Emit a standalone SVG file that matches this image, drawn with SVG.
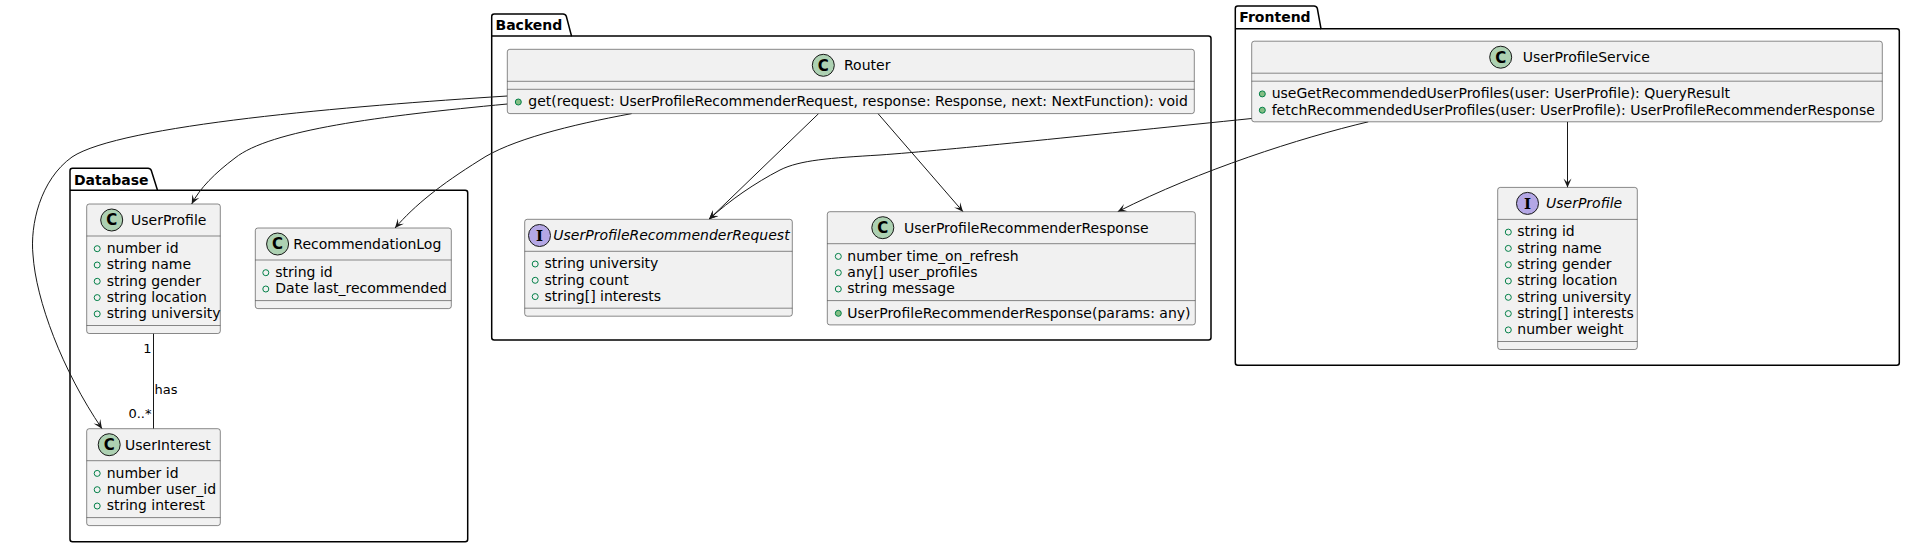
<svg xmlns="http://www.w3.org/2000/svg" width="1905" height="547" viewBox="0 0 1905 547">
<style>
text{font-family:"DejaVu Sans",sans-serif;fill:#000000}
.pkg{fill:none;stroke:#000000;stroke-width:1.5}
.pn{font-size:14px;font-weight:bold}
.box{fill:#F1F1F1;stroke:#181818;stroke-width:0.5}
.dv{stroke:#181818;stroke-width:0.5}
.nm{font-size:14px}
.it{font-style:italic}
.mb{font-size:14px}
.fld{fill:none;stroke:#038048;stroke-width:1}
.mth{fill:#84BE84;stroke:#038048;stroke-width:1}
.cc{fill:#ADD1B2;stroke:#181818;stroke-width:1}
.ic{fill:#B4A7E5;stroke:#181818;stroke-width:1}
.sp{font-size:15px;font-weight:bold;text-anchor:middle}
.spi{font-family:"DejaVu Serif",serif;font-size:15px;font-weight:bold;text-anchor:middle}
.ln{fill:none;stroke:#181818;stroke-width:1}
.lb{font-size:13px}
</style>
<defs>
<marker id="arr" viewBox="-10 -5 11 10" refX="0" refY="0" markerWidth="11" markerHeight="10" orient="auto" markerUnits="userSpaceOnUse">
<path d="M0,0 L-9,-4 L-5,0 L-9,4 Z" fill="#181818"/>
</marker>
</defs>
<rect width="1905" height="547" fill="#FFFFFF"/>

<g id="pkg-database">
<path class="pkg" d="M72.5,168.3 L148,168.3 A3.5,3.5 0 0 1 151.3,170.6 L157.5,190.3 L465.2,190.3 A2.5,2.5 0 0 1 467.7,192.8 L467.7,539.2 A2.5,2.5 0 0 1 465.2,541.7 L72.5,541.7 A2.5,2.5 0 0 1 70,539.2 L70,170.8 A2.5,2.5 0 0 1 72.5,168.3 Z"/>
<line class="pkg" x1="70" y1="190.3" x2="157.5" y2="190.3"/>
<text class="pn" x="74" y="184.5">Database</text>
</g>
<g id="pkg-backend">
<path class="pkg" d="M494.2,14 L563,14 A3.5,3.5 0 0 1 566.3,16.3 L571.5,36 L1208.5,36 A2.5,2.5 0 0 1 1211,38.5 L1211,337.5 A2.5,2.5 0 0 1 1208.5,340 L494.2,340 A2.5,2.5 0 0 1 491.7,337.5 L491.7,16.5 A2.5,2.5 0 0 1 494.2,14 Z"/>
<line class="pkg" x1="491.7" y1="36" x2="571.5" y2="36"/>
<text class="pn" x="495.5" y="30">Backend</text>
</g>
<g id="pkg-frontend">
<path class="pkg" d="M1237.8,6 L1314,6 A3.5,3.5 0 0 1 1317.3,8.3 L1321,28.7 L1896.8,28.7 A2.5,2.5 0 0 1 1899.3,31.2 L1899.3,362.8 A2.5,2.5 0 0 1 1896.8,365.3 L1237.8,365.3 A2.5,2.5 0 0 1 1235.3,362.8 L1235.3,8.5 A2.5,2.5 0 0 1 1237.8,6 Z"/>
<line class="pkg" x1="1235.3" y1="28.7" x2="1321" y2="28.7"/>
<text class="pn" x="1239.3" y="22">Frontend</text>
</g>

<g id="connectors">
<path class="ln" marker-end="url(#arr)" d="M507.3,96 C350,106 120,125 72,157 C40,180 30,225 33,255 C36,300 62,370 102,428.7"/>
<path class="ln" marker-end="url(#arr)" d="M507.3,104 C380,116 270,130 235,158 C215,173 200,188 191.7,204"/>
<path class="ln" marker-end="url(#arr)" d="M631.7,113.6 C570,125 510,140 480,160 C440,185 415,205 395,228"/>
<path class="ln" marker-end="url(#arr)" d="M818.6,113.6 L709,219.3"/>
<path class="ln" marker-end="url(#arr)" d="M878,113.6 L963,211.7"/>
<path class="ln" marker-end="url(#arr)" d="M1251.7,118.5 C1100,134 950,150 880,155 C830,158 800,160 780,170 C755,183 730,200 709,219.3"/>
<path class="ln" marker-end="url(#arr)" d="M1368.3,121.8 C1300,138 1200,170 1117.7,211.7"/>
<path class="ln" marker-end="url(#arr)" d="M1567.5,121.8 L1567.5,187.4"/>
<line class="ln" x1="153.5" y1="333.5" x2="153.5" y2="428.7"/>
<text class="lb" x="151.5" y="353" text-anchor="end">1</text>
<text class="lb" x="154.5" y="394">has</text>
<text class="lb" x="151.5" y="417.5" text-anchor="end">0..*</text>
</g>

<g id="UserProfile_db">
<rect class="box" x="86.7" y="204" width="133.6" height="129.5" rx="2.5"/>
<circle class="cc" cx="111.7" cy="220" r="11"/>
<text class="sp" x="111.7" y="225.4">C</text>
<text class="nm" x="131" y="225">UserProfile</text>
<line class="dv" x1="86.7" y1="236" x2="220.3" y2="236"/>
<circle class="fld" cx="97.2" cy="248.7" r="3"/><text class="mb" x="106.7" y="253">number id</text>
<circle class="fld" cx="97.2" cy="265" r="3"/><text class="mb" x="106.7" y="269.3">string name</text>
<circle class="fld" cx="97.2" cy="281.3" r="3"/><text class="mb" x="106.7" y="285.6">string gender</text>
<circle class="fld" cx="97.2" cy="297.6" r="3"/><text class="mb" x="106.7" y="301.9">string location</text>
<circle class="fld" cx="97.2" cy="313.9" r="3"/><text class="mb" x="106.7" y="318.2">string university</text>
<line class="dv" x1="86.7" y1="325.5" x2="220.3" y2="325.5"/>
</g>

<g id="RecommendationLog">
<rect class="box" x="255.3" y="228" width="196" height="80.6" rx="2.5"/>
<circle class="cc" cx="277.6" cy="244" r="11"/>
<text class="sp" x="277.6" y="249.4">C</text>
<text class="nm" x="293.3" y="249">RecommendationLog</text>
<line class="dv" x1="255.3" y1="260" x2="451.3" y2="260"/>
<circle class="fld" cx="265.8" cy="272.7" r="3"/><text class="mb" x="275.3" y="277">string id</text>
<circle class="fld" cx="265.8" cy="289" r="3"/><text class="mb" x="275.3" y="293.3">Date last_recommended</text>
<line class="dv" x1="255.3" y1="300.6" x2="451.3" y2="300.6"/>
</g>

<g id="UserInterest">
<rect class="box" x="86.7" y="428.7" width="133.6" height="96.9" rx="2.5"/>
<circle class="cc" cx="109.2" cy="444.7" r="11"/>
<text class="sp" x="109.2" y="450.1">C</text>
<text class="nm" x="125" y="449.7">UserInterest</text>
<line class="dv" x1="86.7" y1="460.7" x2="220.3" y2="460.7"/>
<circle class="fld" cx="97.2" cy="473.4" r="3"/><text class="mb" x="106.7" y="477.7">number id</text>
<circle class="fld" cx="97.2" cy="489.7" r="3"/><text class="mb" x="106.7" y="494">number user_id</text>
<circle class="fld" cx="97.2" cy="506" r="3"/><text class="mb" x="106.7" y="510.3">string interest</text>
<line class="dv" x1="86.7" y1="517.6" x2="220.3" y2="517.6"/>
</g>

<g id="Router">
<rect class="box" x="507.3" y="49.3" width="687" height="64.3" rx="2.5"/>
<circle class="cc" cx="823.3" cy="65.3" r="11"/>
<text class="sp" x="823.3" y="70.7">C</text>
<text class="nm" x="844" y="70.3">Router</text>
<line class="dv" x1="507.3" y1="81.3" x2="1194.3" y2="81.3"/>
<line class="dv" x1="507.3" y1="89.3" x2="1194.3" y2="89.3"/>
<circle class="mth" cx="518.3" cy="102" r="3"/><text class="mb" x="528.3" y="106.3">get(request: UserProfileRecommenderRequest, response: Response, next: NextFunction): void</text>
</g>

<g id="UserProfileRecommenderRequest">
<rect class="box" x="524.7" y="219.3" width="267.6" height="96.9" rx="2.5"/>
<circle class="ic" cx="539.5" cy="235.5" r="11"/>
<text class="spi" x="539.5" y="240.9">I</text>
<text class="nm it" x="553.3" y="240.3">UserProfileRecommenderRequest</text>
<line class="dv" x1="524.7" y1="251.3" x2="792.3" y2="251.3"/>
<circle class="fld" cx="535.2" cy="264" r="3"/><text class="mb" x="544.5" y="268.3">string university</text>
<circle class="fld" cx="535.2" cy="280.3" r="3"/><text class="mb" x="544.5" y="284.6">string count</text>
<circle class="fld" cx="535.2" cy="296.6" r="3"/><text class="mb" x="544.5" y="300.9">string[] interests</text>
<line class="dv" x1="524.7" y1="308.2" x2="792.3" y2="308.2"/>
</g>

<g id="UserProfileRecommenderResponse">
<rect class="box" x="827.3" y="211.7" width="368" height="113.2" rx="2.5"/>
<circle class="cc" cx="882.8" cy="227.7" r="11"/>
<text class="sp" x="882.8" y="233.1">C</text>
<text class="nm" x="904" y="232.7">UserProfileRecommenderResponse</text>
<line class="dv" x1="827.3" y1="243.7" x2="1195.3" y2="243.7"/>
<circle class="fld" cx="838.3" cy="256.4" r="3"/><text class="mb" x="847.3" y="260.7">number time_on_refresh</text>
<circle class="fld" cx="838.3" cy="272.7" r="3"/><text class="mb" x="847.3" y="277">any[] user_profiles</text>
<circle class="fld" cx="838.3" cy="289" r="3"/><text class="mb" x="847.3" y="293.3">string message</text>
<line class="dv" x1="827.3" y1="300.6" x2="1195.3" y2="300.6"/>
<circle class="mth" cx="838.3" cy="313.3" r="3"/><text class="mb" x="847.3" y="317.6">UserProfileRecommenderResponse(params: any)</text>
</g>

<g id="UserProfileService">
<rect class="box" x="1251.7" y="41.2" width="630.6" height="80.6" rx="2.5"/>
<circle class="cc" cx="1500.7" cy="57.2" r="11"/>
<text class="sp" x="1500.7" y="62.6">C</text>
<text class="nm" x="1522.7" y="62.2">UserProfileService</text>
<line class="dv" x1="1251.7" y1="73.2" x2="1882.3" y2="73.2"/>
<line class="dv" x1="1251.7" y1="81.2" x2="1882.3" y2="81.2"/>
<circle class="mth" cx="1262.3" cy="93.9" r="3"/><text class="mb" x="1271.7" y="98.2">useGetRecommendedUserProfiles(user: UserProfile): QueryResult</text>
<circle class="mth" cx="1262.3" cy="110.2" r="3"/><text class="mb" x="1271.7" y="114.5">fetchRecommendedUserProfiles(user: UserProfile): UserProfileRecommenderResponse</text>
</g>

<g id="UserProfile_fe">
<rect class="box" x="1497.7" y="187.4" width="139.6" height="162.1" rx="2.5"/>
<circle class="ic" cx="1527.5" cy="203.4" r="11"/>
<text class="spi" x="1527.5" y="208.8">I</text>
<text class="nm it" x="1546" y="208.4">UserProfile</text>
<line class="dv" x1="1497.7" y1="219.4" x2="1637.3" y2="219.4"/>
<circle class="fld" cx="1508.3" cy="232.1" r="3"/><text class="mb" x="1517.3" y="236.4">string id</text>
<circle class="fld" cx="1508.3" cy="248.4" r="3"/><text class="mb" x="1517.3" y="252.7">string name</text>
<circle class="fld" cx="1508.3" cy="264.7" r="3"/><text class="mb" x="1517.3" y="269">string gender</text>
<circle class="fld" cx="1508.3" cy="281" r="3"/><text class="mb" x="1517.3" y="285.3">string location</text>
<circle class="fld" cx="1508.3" cy="297.3" r="3"/><text class="mb" x="1517.3" y="301.6">string university</text>
<circle class="fld" cx="1508.3" cy="313.6" r="3"/><text class="mb" x="1517.3" y="317.9">string[] interests</text>
<circle class="fld" cx="1508.3" cy="329.9" r="3"/><text class="mb" x="1517.3" y="334.2">number weight</text>
<line class="dv" x1="1497.7" y1="341.5" x2="1637.3" y2="341.5"/>
</g>
</svg>
